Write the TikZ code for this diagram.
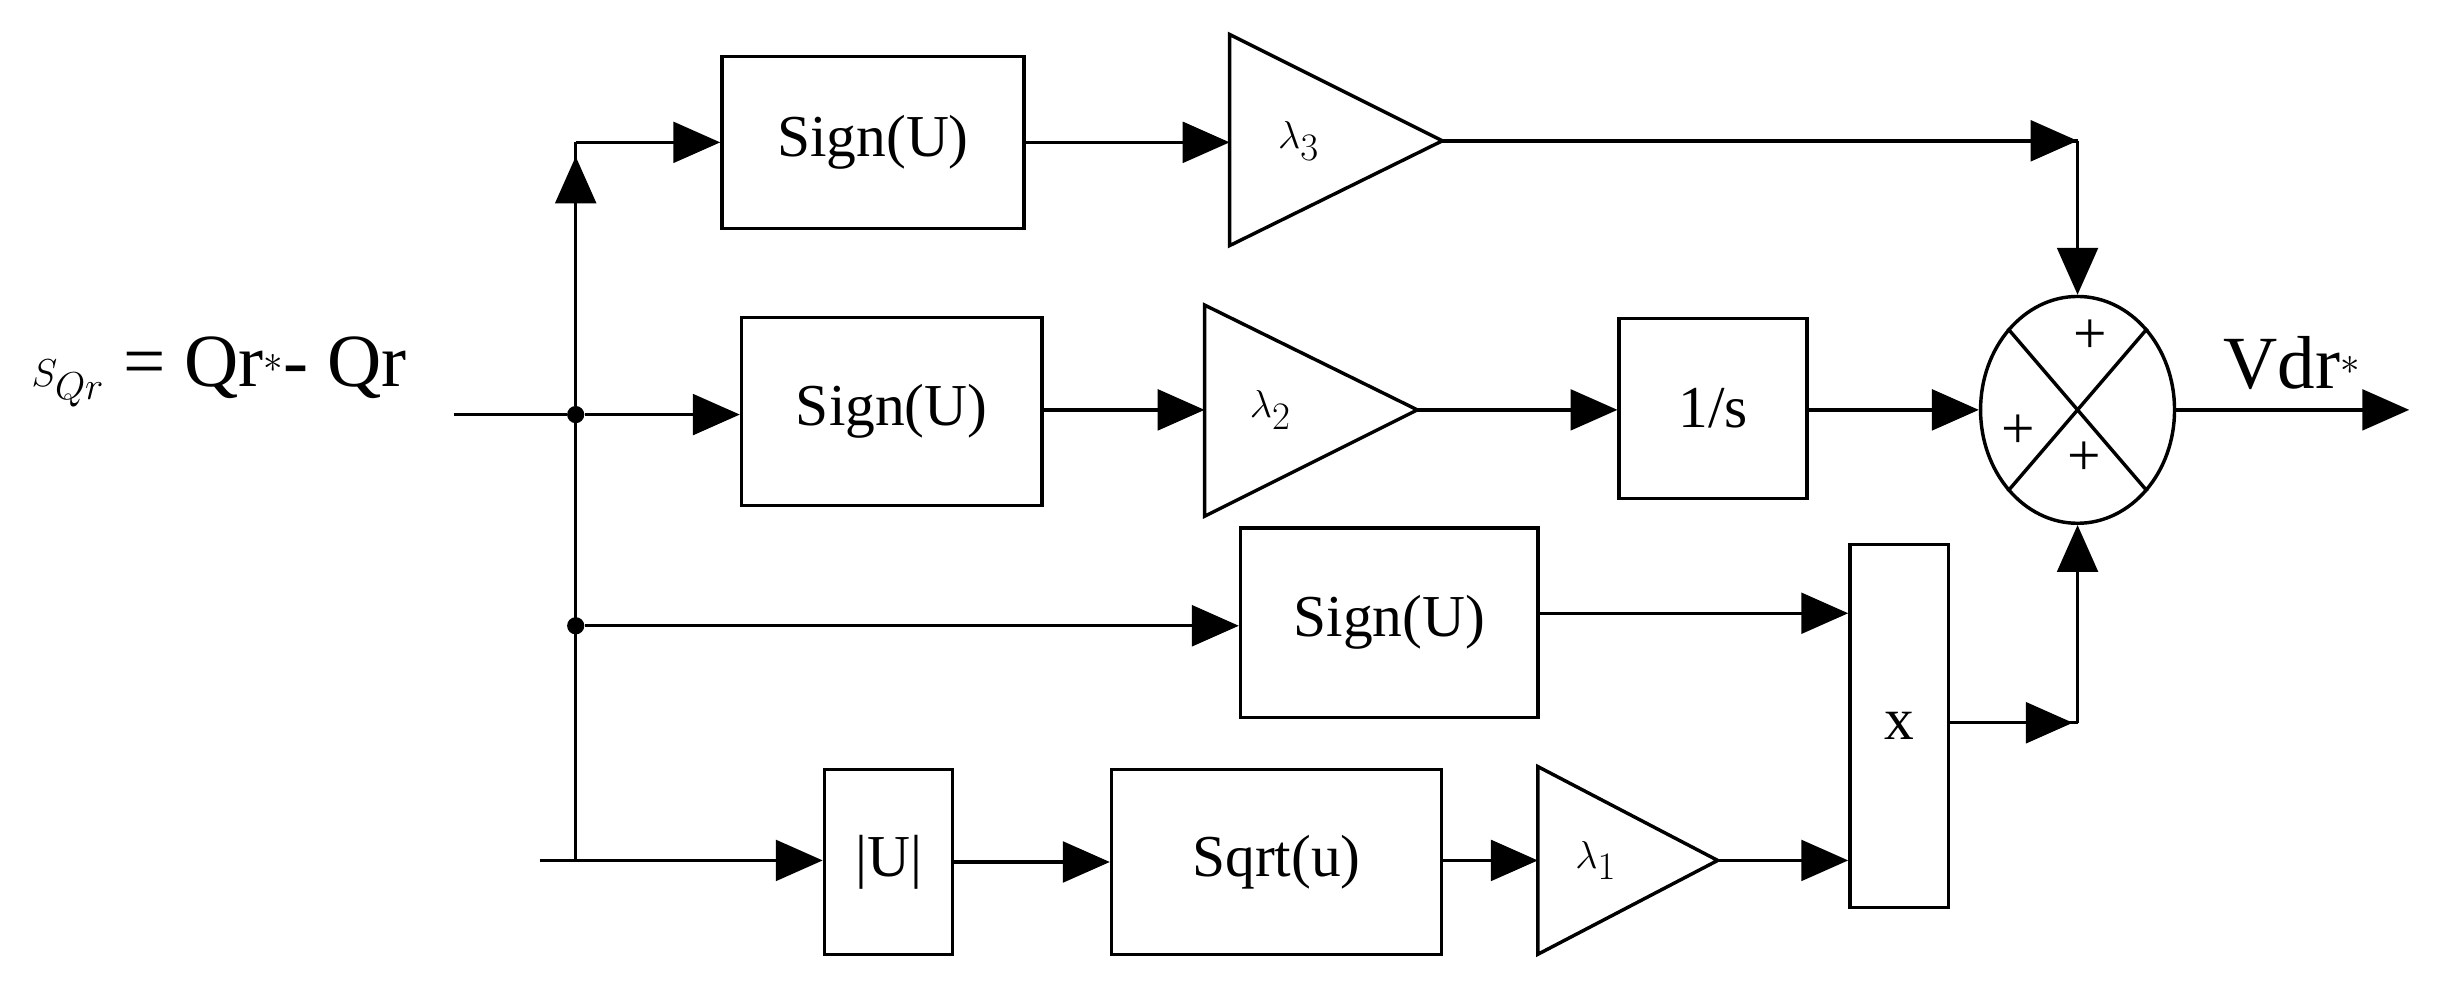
\documentclass[tikz,border=0pt]{standalone}
\usetikzlibrary{arrows.meta,shapes.geometric}
\usepackage{fontspec}
\setmainfont{Liberation Serif}
\begin{document}
\begin{tikzpicture}[x=1pt,y=-1pt,
  blk/.style={draw,line width=2.2pt,inner sep=0pt},
  ln/.style={line width=2.2pt},
  ar/.style={ln,-{Triangle[length=30pt,width=26pt]}},
  txt/.style={font=\fontsize{38}{44}\selectfont},
  big/.style={font=\fontsize{48}{54}\selectfont},
  dot/.style={circle,fill,inner sep=0pt,minimum size=11pt}]
\useasboundingbox (0,0) rectangle (1568,644);
% top row
\node[blk,minimum width=193pt,minimum height=110pt,txt] (s1) at (558,91) {Sign(U)};
\draw[blk] (786,22) -- (922,90) -- (786,157) -- cycle;
\coordinate (t3) at (922,90);
\node[big] at (830,90) {$\lambda_3$};
% middle row
\node[blk,minimum width=192pt,minimum height=120pt,txt] (s2) at (570,263) {Sign(U)};
\draw[blk] (770,195) -- (906,262) -- (770,330) -- cycle;
\coordinate (t2) at (906,262);
\coordinate (t2in) at (770,262);
\node[big] at (812,262) {$\lambda_2$};
\node[blk,minimum width=120pt,minimum height=115pt,txt] (int) at (1095,261) {1/s};
% sum
\node[draw,line width=2.2pt,ellipse,minimum width=124pt,minimum height=145pt,inner sep=0pt] (sum) at (1328,262) {};
\draw[ln] (sum.north west) -- (sum.south east) (sum.north east) -- (sum.south west);
\node[txt] at (1336,215) {+};
\node[txt] at (1290,276) {+};
\node[txt] at (1332,293) {+};
% third row
\node[blk,minimum width=190pt,minimum height=121pt,txt] (s3) at (888,398) {Sign(U)};
\node[blk,minimum width=63pt,minimum height=232pt,txt] (mul) at (1214,464) {x};
% bottom row
\node[blk,minimum width=82pt,minimum height=118pt,txt] (abs) at (568,551) {|U|};
\node[blk,minimum width=211pt,minimum height=118pt,txt] (sq) at (816,551) {Sqrt(u)};
\draw[blk] (983,490) -- (1098,550) -- (983,610) -- cycle;
\coordinate (t1) at (1098,550);
\coordinate (t1in) at (983,550);
\node[big] at (1020,550) {$\lambda_1$};
% input
\node[big,anchor=west,inner sep=0pt] (lab) at (20,238) {$S_{Qr}$ = Qr$^{*}$- Qr};
\coordinate (in) at (290,265);
\coordinate (bin) at (345,550);
\node[dot] (j1) at (368,265) {};
\node[dot] (j2) at (368,400) {};
\coordinate (jb) at (368,550);
\coordinate (jt) at (368,91);
\coordinate (vjt) at (368,100);
\draw[ln] (in) -- (j1);
\draw[ln] (bin) -- (jb) -- (j1) -- (jt);
\draw[ar] (j1) -- (vjt);
\draw[ar] (jt) -- (s1.west);
\draw[ar] (j1) -- (s2.west |- j1);
\draw[ar] (j2) -- (s3.west |- j2);
\draw[ar] (jb) -- (abs.west |- jb);
\draw[ar] (s1.east) -- (786,91);
\coordinate (c3) at (1328,90);
\draw[ln] (t3) -- (c3);
\draw[ar] (c3) -- (sum.north);
\draw[ar] (1240,90) -- (c3);
\draw[ar] (s2.east |- t2in) -- (t2in);
\draw[ar] (t2) -- (int.west |- t2);
\draw[ar] (int.east |- t2) -- (sum.west);
\draw[ar] (sum.east) -- (1540,262) coordinate (out);
\node[big] at (1465,232) {Vdr$^{*}$};
\draw[ar] (s3.east |- 0,392) -- (mul.west |- 0,392);
\coordinate (mo) at (1246,462);
\coordinate (cb) at (1328,462);
\draw[ln] (mo) -- (cb);
\draw[ar] (mo) -- (1325,462);
\draw[ar] (cb) -- (sum.south);
\draw[ar] (abs.east) -- (sq.west);
\draw[ar] (sq.east |- t1in) -- (t1in);
\draw[ar] (t1) -- (mul.west |- 0,550);
\end{tikzpicture}
\end{document}
